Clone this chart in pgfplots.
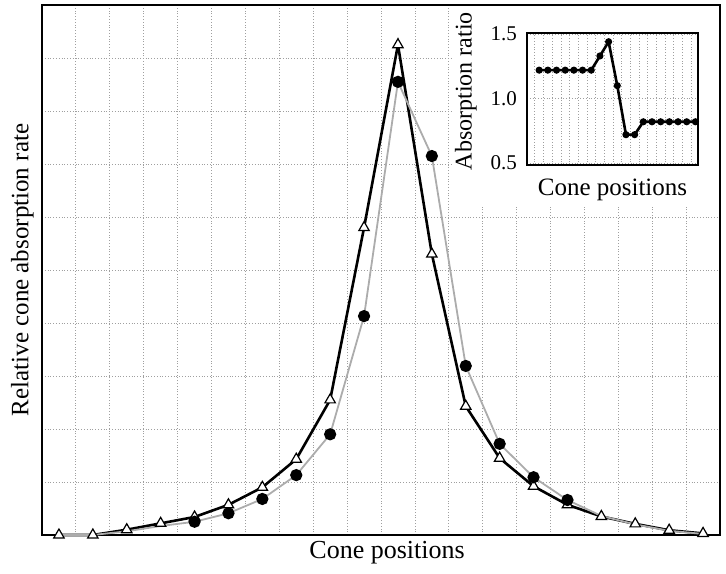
\documentclass[border=0pt]{standalone}
\usepackage{fontspec}
\setmainfont{Liberation Serif}
\usepackage{pgfplots}
\pgfplotsset{compat=1.18}
\begin{document}
\begin{tikzpicture}
\path[use as bounding box] (-21pt,-19pt) rectangle (342pt,267.5pt);
\begin{axis}[
  at={(0pt,0pt)}, anchor=south west,
  scale only axis, width=339pt, height=265pt,
  xmin=0, xmax=20, ymin=0, ymax=10,
  xtick={1,...,19}, ytick={1,...,9},
  xticklabels={}, yticklabels={},
  major tick length=0pt,
  grid=major,
  grid style={densely dotted, gray!75, line width=0.4pt},
  axis line style={black, line width=0.8pt},
  clip=false,
  xlabel={Cone positions}, ylabel={Relative cone absorption rate},
  xlabel style={at={(axis description cs:0.509,-0.034)}, anchor=center, font=\fontsize{13}{15}\selectfont},
  ylabel style={at={(axis description cs:-0.0288,0.5)}, anchor=center, font=\fontsize{12.5}{15}\selectfont},
]
\addplot[black, line width=1.3pt, mark=triangle*, mark size=3pt,
  mark options={fill=white, draw=black, line width=0.6pt, solid}] coordinates {
(0.5,0) (1.5,0) (2.5,0.1) (3.5,0.22) (4.5,0.34) (5.5,0.57) (6.5,0.9) (7.5,1.43)
(8.5,2.55) (9.5,5.8) (10.5,9.25) (11.5,5.3) (12.5,2.43) (13.5,1.45) (14.5,0.92)
(15.5,0.57) (16.5,0.35) (17.5,0.21) (18.5,0.09) (19.5,0.03)};
\addplot[gray!65, line width=0.9pt, mark=*, mark size=2.6pt,
  mark options={black, fill=black, solid},
  mark indices={5,6,7,8,9,10,11,12,13,14,15,16}] coordinates {
(0.5,0) (1.5,0) (2.5,0.07) (3.5,0.17) (4.5,0.25) (5.5,0.41) (6.5,0.68) (7.5,1.13)
(8.5,1.9) (9.5,4.13) (10.5,8.55) (11.5,7.15) (12.5,3.19) (13.5,1.72) (14.5,1.09)
(15.5,0.66) (16.5,0.36) (17.5,0.2) (18.5,0.08) (19.5,0.02)};
\end{axis}
\fill[white] (205pt,164pt) rectangle (338.4pt,264.4pt);
\begin{axis}[
  at={(242.5pt,185pt)}, anchor=south west,
  scale only axis, width=85.5pt, height=66pt,
  xmin=-0.4, xmax=19.3, ymin=0.485, ymax=1.508,
  ytick={0.5,1.0,1.5}, yticklabels={0.5,1.0,1.5},
  xtick={0.5,1.5,...,18.5}, xticklabels={},
  major tick length=0pt,
  xmajorgrids, ymajorgrids,
  grid style={densely dotted, gray!75, line width=0.35pt},
  axis line style={black, line width=0.6pt},
  yticklabel style={font=\fontsize{10.5}{12}\selectfont, xshift=-1.5pt},
  xlabel={Cone positions}, ylabel={Absorption ratio},
  xlabel style={at={(axis description cs:0.5,-0.19)}, anchor=center, font=\fontsize{12.5}{14}\selectfont},
  ylabel style={at={(axis description cs:-0.357,0.56)}, anchor=center, font=\fontsize{12}{14}\selectfont},
]
\addplot[black, line width=1.3pt, mark=*, mark size=1.1pt, mark options={solid}] coordinates {
(1,1.22) (2,1.22) (3,1.22) (4,1.22) (5,1.22) (6,1.22) (7,1.22) (8,1.33) (9,1.44)
(10,1.1) (11,0.72) (12,0.72) (13,0.82) (14,0.82) (15,0.82) (16,0.82) (17,0.82)
(18,0.82) (19,0.82)};
\end{axis}
\end{tikzpicture}
\end{document}
